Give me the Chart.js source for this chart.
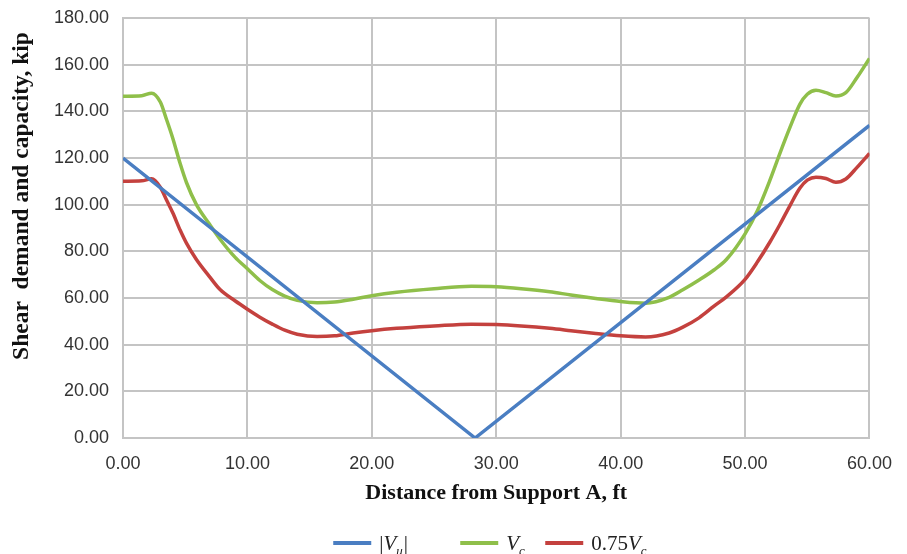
<!DOCTYPE html>
<html>
<head>
<meta charset="utf-8">
<script src="https://cdn.jsdelivr.net/npm/chart.js@4.4.0/dist/chart.umd.min.js"></script>
<style>
  html, body { margin: 0; padding: 0; background: #fff; }
</style>
</head>
<body>
<canvas id="shearChart" width="907" height="554"></canvas>
<script>
// distance along the beam, ft (shared by Vc and 0.75Vc)
const distance = [0, 1.5, 2.3, 3, 3.5, 4, 4.6, 5.1, 5.9, 6.9, 7.8, 9, 10, 11, 12, 13, 14, 15.6, 17, 18.5, 20, 22, 25,
    28, 30, 32, 34.3, 36, 38, 40, 42, 43.9, 45, 46.3, 47.5, 48.5, 50, 51, 52, 52.8, 53.6, 54.4, 55, 55.7, 56.5,
    57.3, 58.1, 59, 60];

// shear capacity Vc, kip
const vcValues = [146.5, 146.7, 147.8, 144, 136.5, 128.5, 117.5, 109.5, 100, 92, 85.2, 77.5, 72.5, 67.5, 63.6,
    60.8, 59, 58, 58.3, 59.5, 61, 62.5, 64, 65, 64.8, 64, 62.7, 61.3, 59.8, 58.5, 57.8, 60.3, 63.5, 67.7, 72,
    76.5, 87.5, 97.5, 110.5, 122, 133, 143, 147.3, 149, 148, 146.6, 148, 154.5, 162.7];

// 0.75 Vc, kip
const vc75Values = [110, 110.2, 111.1, 107.5, 102, 96.5, 89, 83.5, 76.5, 69.5, 63.6, 58.8, 55.2, 51.8, 48.8, 46.2,
    44.5, 43.5, 43.8, 45, 46, 47, 48, 48.8, 48.6, 48, 47, 46, 44.8, 43.8, 43.3, 45, 47.5, 51.5, 56.5, 60.5, 68,
    75.5, 84, 91.5, 99.5, 107, 110.5, 111.8, 111.2, 109.6, 111, 116, 122];

// shear demand |Vu|, kip
const vuDistance = [0, 28.3, 60];
const vuValues = [120, 0, 134];

const blue = '#4a7ec2';
const green = '#8fbf4a';
const red = '#c4413e';

const toPoints = (xs, ys) => xs.map((x, i) => ({ x: x, y: ys[i] }));

// legend entries: [text, italic, subscript]
const legendEntries = [
    { color: blue, parts: [['|', false, false], ['V', true, false], ['u', true, true], ['|', false, false]] },
    { color: green, parts: [['V', true, false], ['c', true, true]] },
    { color: red, parts: [['0.75', false, false], ['V', true, false], ['c', true, true]] }
];

const yTitle = 'Shear  demand and capacity, kip';

const labelsPlugin = {
    id: 'mathLegend',
    afterDraw(chart) {
        const ctx = chart.ctx;
        const area = chart.chartArea;
        ctx.save();

        // y axis title, sits a little above the middle of the plot like the original
        ctx.translate(22, (area.top + area.bottom) / 2 - 32);
        ctx.rotate(-Math.PI / 2);
        ctx.font = 'bold 23.5px "Liberation Serif"';
        ctx.fillStyle = '#111';
        ctx.textAlign = 'center';
        ctx.textBaseline = 'middle';
        ctx.fillText(yTitle, 0, 0);
        ctx.setTransform(1, 0, 0, 1, 0, 0);

        // legend with italic / subscript labels
        const y = chart.height - 11;
        const slots = [-163, -36, 49]; // offset of each item from plot centre
        const centre = (area.left + area.right) / 2;
        ctx.textAlign = 'left';
        ctx.textBaseline = 'alphabetic';
        legendEntries.forEach((entry, i) => {
            let x = centre + slots[i];
            ctx.strokeStyle = entry.color;
            ctx.lineWidth = 4;
            ctx.beginPath();
            ctx.moveTo(x, y);
            ctx.lineTo(x + 38, y);
            ctx.stroke();
            x += 46;
            ctx.fillStyle = '#222';
            entry.parts.forEach(([txt, italic, sub]) => {
                const size = sub ? 13 : 21;
                ctx.font = (italic ? 'italic ' : '') + size + 'px "Liberation Serif"';
                ctx.fillText(txt, x, y + 7 + (sub ? 5 : 0));
                x += ctx.measureText(txt).width + (sub ? 1 : 0);
            });
        });
        ctx.restore();
    }
};

const gridColor = '#c4c4c4';
const tickFont = { family: '"Liberation Sans", Arial', size: 18 };

const ctx = document.getElementById('shearChart').getContext('2d');
const chart = new Chart(ctx, {
    type: 'line',
    data: {
        datasets: [
            {
                label: '|Vu|',
                data: toPoints(vuDistance, vuValues),
                borderColor: blue,
                borderWidth: 3.5,
                pointRadius: 0,
                tension: 0
            },
            {
                label: 'Vc',
                data: toPoints(distance, vcValues),
                borderColor: green,
                borderWidth: 3.5,
                pointRadius: 0,
                cubicInterpolationMode: 'monotone'
            },
            {
                label: '0.75Vc',
                data: toPoints(distance, vc75Values),
                borderColor: red,
                borderWidth: 3.5,
                pointRadius: 0,
                cubicInterpolationMode: 'monotone'
            }
        ]
    },
    options: {
        responsive: false,
        animation: false,
        devicePixelRatio: 1,
        layout: { padding: { top: 18, right: 37, left: 0, bottom: 43 } },
        plugins: {
            legend: { display: false },
            tooltip: { enabled: false }
        },
        scales: {
            x: {
                type: 'linear',
                min: 0,
                max: 60,
                ticks: {
                    stepSize: 10,
                    padding: 15,
                    color: '#333',
                    font: tickFont,
                    callback: v => v.toFixed(2)
                },
                grid: { color: gridColor, lineWidth: 2, drawTicks: false },
                border: { color: gridColor, width: 2 },
                title: {
                    display: true,
                    text: 'Distance from Support A, ft',
                    color: '#111',
                    font: { family: '"Liberation Serif", serif', size: 22, weight: 'bold' },
                    padding: { top: 4 }
                },
                afterFit: scale => { scale.height = 73; }
            },
            y: {
                min: 0,
                max: 180,
                ticks: {
                    stepSize: 20,
                    padding: 14,
                    color: '#333',
                    font: tickFont,
                    callback: v => v.toFixed(2)
                },
                grid: { color: gridColor, lineWidth: 2, drawTicks: false },
                border: { color: gridColor, width: 2 },
                afterFit: scale => {
                    scale.width = 123;
                    scale.paddingTop = 0;
                    scale.paddingBottom = 0;
                }
            }
        }
    },
    plugins: [labelsPlugin]
});
</script>
</body>
</html>
